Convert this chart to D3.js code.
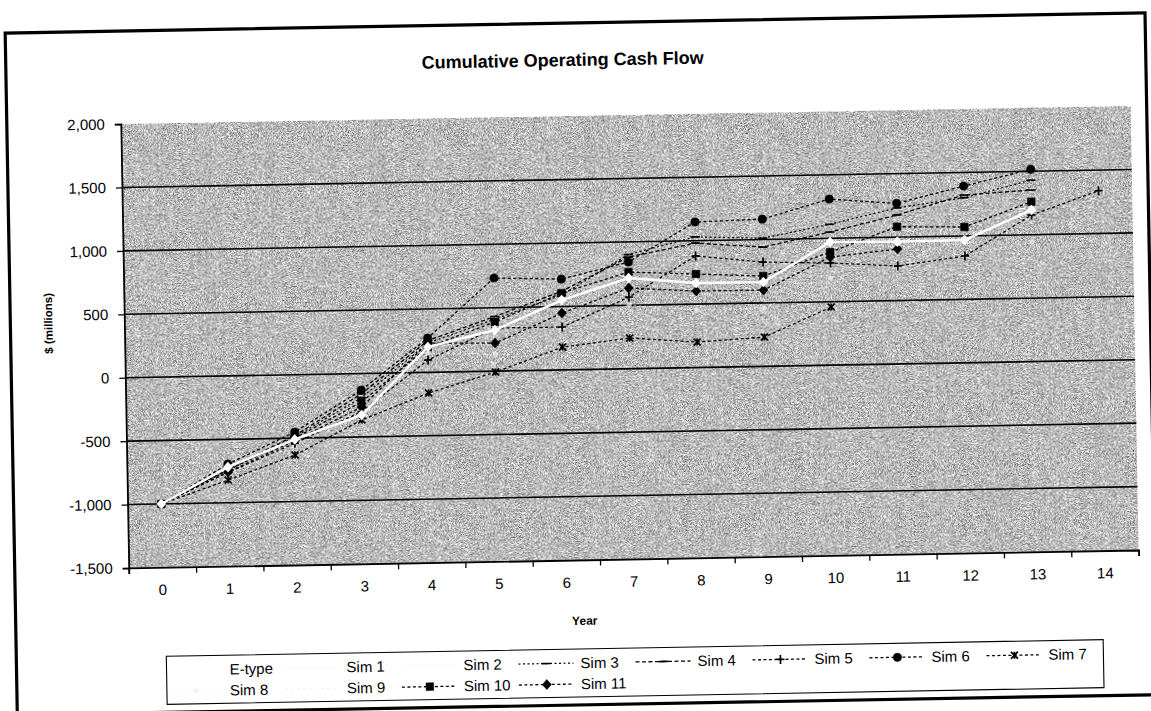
<!DOCTYPE html>
<html>
<head>
<meta charset="utf-8">
<script src="https://cdn.jsdelivr.net/npm/d3@7"></script>
<style>
  body { margin: 0; background: #fff; }
  text { font-family: "Liberation Sans", Arial, sans-serif; fill: #000; }
</style>
</head>
<body>
<svg id="chart"></svg>
<script>
// data ($ millions, cumulative)
let years = [0, 1, 2, 3, 4, 5, 6, 7, 8, 9, 10, 11, 12, 13, 14]
let yTicks = [-1500, -1000, -500, 0, 500, 1000, 1500, 2000]

let eType = [-1000, -719, -510, -327, 200, 324, 551, 715, 666, 664, 970, 964, 968, 1195]
let sim1  = [-1000, -725, -470, -170, 280, 560, 690, 860, 1107, 1050, 1120, 1200, 1290, 1400]
let sim2  = [-1000, -735, -505, -240, 180, 300, 470, 600, 640, 700, 900, 990, 1060, 1220]
let sim3  = [-1000, -745, -490, -190, 230, 410, 590, 900, 1030, 1010, 1110, 1230, 1300, 1430]
let sim4  = [-1000, -735, -480, -160, 250, 430, 620, 880, 981, 940, 1049, 1174, 1322, 1352]
let sim5  = [-1000, -760, -540, -300, 97, 340, 338, 565, 879, 822, 805, 772, 842, 1155, 1337]
let sim6  = [-1000, -695, -452, -130, 270, 734, 716, 841, 1147, 1161, 1309, 1266, 1393, 1515]
let sim7  = [-1000, -821, -633, -366, -163, -7, 180, 242, 201, 231, 458]
let sim8  = [-1000, -770, -560, -330, 150, 135, 330, 502, 453, 459, 686, 760, 850, 945]
let sim9  = [-1000, -750, -530, -280, 120, 280, 420, 560, 580, 590, 780, 880, 940, 1100]
let sim10 = [-1000, -740, -500, -225, 199, 387, 606, 762, 737, 712, 891, 1082, 1070, 1260]
let sim11 = [-1000, -758, -520, -264, 230, 221, 448, 636, 603, 601, 852, 906]

let W = 1151, H = 711
let L = 125, R = 1135, T = 116, B = 560

let svg = d3.select('#chart').attr('width', W).attr('height', H)

// noise texture for the dithered plot background
let defs = svg.append('defs')
let f = defs.append('filter').attr('id', 'grain')
  .attr('x', 0).attr('y', 0).attr('width', '100%').attr('height', '100%')
  .attr('color-interpolation-filters', 'sRGB')
f.append('feTurbulence').attr('type', 'fractalNoise')
  .attr('baseFrequency', 1.2).attr('numOctaves', 2).attr('seed', 7)
f.append('feColorMatrix').attr('type', 'matrix')
  .attr('values', '1.3 0 0 0 0.08  1.3 0 0 0 0.08  1.3 0 0 0 0.08  0 0 0 0 1')

// the scan is tilted about one degree
let g = svg.append('g').attr('transform', 'rotate(-1.02,575,355)')

g.append('rect').attr('x', 11).attr('y', 23).attr('width', 1140).attr('height', 682)
  .attr('fill', 'none').attr('stroke', '#000').attr('stroke-width', 3.2)

let x = d3.scaleBand().domain(years).range([L, R])
let xEdge = d3.scaleLinear().domain([0, years.length]).range([L, R])
let y = d3.scaleLinear().domain([-1500, 2000]).range([B, T])
let cx = d => x(d) + x.bandwidth() / 2

g.append('rect').attr('x', L).attr('y', T).attr('width', R - L).attr('height', B - T)
  .attr('filter', 'url(#grain)')

// gridlines
g.append('g').selectAll('line')
  .data(yTicks.filter(v => v > -1500 && v < 2000))
  .enter().append('line')
  .attr('x1', L).attr('x2', R)
  .attr('y1', d => y(d)).attr('y2', d => y(d))
  .attr('stroke', '#000').attr('stroke-width', 1.6)

// axes
let fmt = d3.format(',')
let yAxis = g.append('g').attr('transform', `translate(${L},0)`)
  .call(d3.axisLeft(y).tickValues(yTicks).tickSize(6).tickPadding(10)
    .tickFormat(d => fmt(d).replace('\u2212', '-')))
yAxis.selectAll('text').attr('font-size', 15)

let xTicks = g.append('g').attr('transform', `translate(0,${B})`)
  .call(d3.axisBottom(xEdge).ticks(years.length).tickSize(6).tickFormat(''))
let xLabels = g.append('g').attr('transform', `translate(0,${B})`)
  .call(d3.axisBottom(x).tickSize(0).tickPadding(17))
xLabels.select('.domain').remove()
xLabels.selectAll('text').attr('font-size', 15)
g.selectAll('.domain').attr('stroke-width', 1.8)
g.selectAll('.tick line').attr('stroke-width', 1.3)

// titles
g.append('text').attr('x', 568).attr('y', 66).attr('text-anchor', 'middle')
  .attr('font-size', 18).attr('font-weight', 'bold').text('Cumulative Operating Cash Flow')
g.append('text').attr('x', 580).attr('y', 625).attr('text-anchor', 'middle')
  .attr('font-size', 12).attr('font-weight', 'bold').text('Year')
g.append('text').attr('transform', 'translate(53,314) rotate(-90)').attr('text-anchor', 'middle')
  .attr('font-size', 11.5).attr('font-weight', 'bold').text('$ (millions)')

// marker shapes
let marks = {
  circle: { d: d3.symbol(d3.symbolCircle, 52)(), fill: true },
  square: { d: d3.symbol(d3.symbolSquare, 56)(), fill: true },
  diamond: { d: 'M0,-5L4.5,0L0,5L-4.5,0Z', fill: true },
  plus: { d: 'M-4,0H4M0,-4.5V4.5', fill: false },
  cross: { d: 'M-3.5,-3.5L3.5,3.5M-3.5,3.5L3.5,-3.5M0,-3.5V3.5', fill: false },
  dash: { d: 'M-4.5,0H4.5', fill: false },
  dot: { d: d3.symbol(d3.symbolCircle, 18)(), fill: true },
}

let series = [
  { name: 'E-type', values: eType, color: '#fff', width: 2.4, dash: null, mark: 'diamond' },
  { name: 'Sim 1', values: sim1, color: '#f2f2f2', width: 1, dash: '3,3', mark: null, op: 0.3 },
  { name: 'Sim 2', values: sim2, color: '#f2f2f2', width: 1, dash: '3,3', mark: null, op: 0.3 },
  { name: 'Sim 3', values: sim3, color: '#000', width: 1.2, dash: '2,2.5', mark: 'dash' },
  { name: 'Sim 4', values: sim4, color: '#000', width: 1.3, dash: '4,2.5', mark: 'dash' },
  { name: 'Sim 5', values: sim5, color: '#000', width: 1.3, dash: '3,2.5', mark: 'plus' },
  { name: 'Sim 6', values: sim6, color: '#000', width: 1.3, dash: '3,2.5', mark: 'circle' },
  { name: 'Sim 7', values: sim7, color: '#000', width: 1.3, dash: '3,2.5', mark: 'cross' },
  { name: 'Sim 8', values: sim8, color: '#f4f4f4', width: 1, dash: '2,3', mark: 'dot', op: 0.7 },
  { name: 'Sim 9', values: sim9, color: '#f2f2f2', width: 1, dash: '3,3', mark: null, op: 0.3 },
  { name: 'Sim 10', values: sim10, color: '#000', width: 1.3, dash: '3,2.5', mark: 'square' },
  { name: 'Sim 11', values: sim11, color: '#000', width: 1.3, dash: '3,2.5', mark: 'diamond' },
]

let line = d3.line().x((d, i) => cx(years[i])).y(d => y(d))

let drawMark = (sel, s) => {
  let m = marks[s.mark]
  sel.append('path').attr('d', m.d)
    .attr('fill', m.fill ? s.color : 'none')
    .attr('stroke', s.color)
    .attr('stroke-width', m.fill ? 0.6 : 1.7)
}

// draw light series first so the black ones stay on top, E-type last
let order = [1, 2, 9, 8, 3, 4, 5, 6, 7, 10, 11, 0]
let plot = g.append('g')
order.forEach(k => {
  let s = series[k]
  let grp = plot.append('g').attr('opacity', s.op || 1)
  grp.append('path').datum(s.values).attr('d', line)
    .attr('fill', 'none').attr('stroke', s.color)
    .attr('stroke-width', s.width)
    .attr('stroke-dasharray', s.dash)
  if (s.mark) {
    grp.selectAll('.m').data(s.values).enter().append('g').attr('class', 'm')
      .attr('transform', (d, i) => `translate(${cx(years[i])},${y(d)})`)
      .each(function () { drawMark(d3.select(this), s) })
  }
})

// legend
let lg = g.append('g')
lg.append('rect').attr('x', 161).attr('y', 649).attr('width', 937).attr('height', 48)
  .attr('fill', '#fff').attr('stroke', '#000').attr('stroke-width', 1.1)
series.forEach((s, i) => {
  let col = i < 8 ? i : i - 8
  let row = i < 8 ? 0 : 1
  let tx = 224 + col * 117
  let ty = 663 + row * 21
  lg.append('line').attr('x1', tx - 62).attr('x2', tx - 7).attr('y1', ty).attr('y2', ty)
    .attr('stroke', s.color).attr('stroke-width', s.width).attr('stroke-dasharray', s.dash)
  if (s.mark) {
    let mg = lg.append('g').attr('transform', `translate(${tx - 34},${ty})`)
    drawMark(mg, s)
  }
  lg.append('text').attr('x', tx).attr('y', ty).attr('dy', '0.35em')
    .attr('font-size', 15).text(s.name)
})
</script>
</body>
</html>
